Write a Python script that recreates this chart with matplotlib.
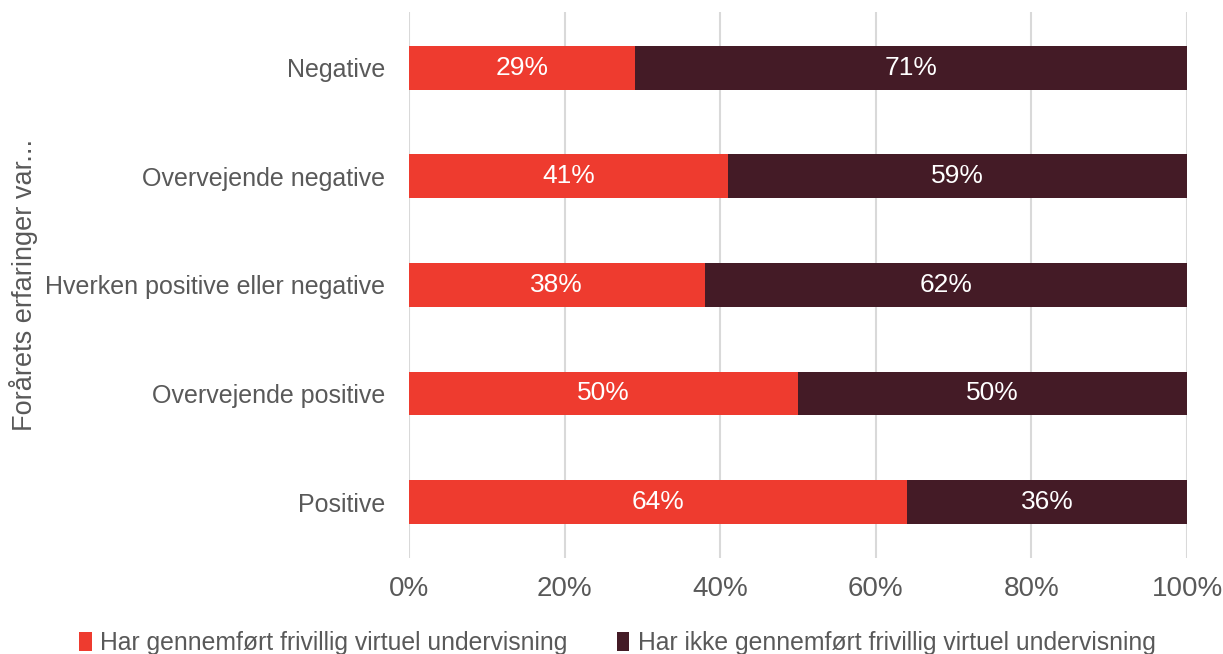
import numpy as np
import matplotlib
matplotlib.use("Agg")
from matplotlib import pyplot as plt

categories = ['Positive', 'Overvejende positive', 'Hverken positive eller negative',
              'Overvejende negative', 'Negative']
har = [64, 50, 38, 41, 29]
har_ikke = [36, 50, 62, 59, 71]
series_names = ['Har gennemført frivillig virtuel undervisning',
                'Har ikke gennemført frivillig virtuel undervisning']
xticks = [0, 20, 40, 60, 80, 100]

red = '#EE3B2F'
dark = '#441B26'
grey = '#595959'

plt.rcParams['font.family'] = ['Liberation Sans', 'DejaVu Sans']

fig = plt.figure(figsize=(12.23, 6.54), dpi=100)
ax = fig.add_axes([0.3344, 0.1468, 0.6362, 0.8349])

y = np.arange(len(categories))
h = 0.405
b1 = ax.barh(y, har, height=h, color=red, label=series_names[0], zorder=3)
b2 = ax.barh(y, har_ikke, left=har, height=h, color=dark, label=series_names[1], zorder=3)

for i in range(len(categories)):
    ax.text(har[i] / 2, y[i], f'{har[i]}%', ha='center', va='center',
            color='white', fontsize=19, zorder=4)
    ax.text(har[i] + har_ikke[i] / 2, y[i], f'{har_ikke[i]}%', ha='center', va='center',
            color='white', fontsize=19, zorder=4)

ax.set_xlim(0, 100)
ax.set_ylim(-0.516, 4.516)
ax.set_xticks(xticks)
ax.set_xticklabels([f'{t}%' for t in xticks], fontsize=20, color=grey)
ax.set_yticks(y)
ax.set_yticklabels(categories, fontsize=18, color=grey)
ax.tick_params(length=0, pad=17)
ax.tick_params(axis='x', pad=13)
ax.grid(axis='x', color='#D9D9D9', linewidth=1.5, zorder=0)
for s in ax.spines.values():
    s.set_visible(False)

fig.text(0.019, 0.565, 'Forårets erfaringer var...', rotation=90, ha='center', va='center',
         fontsize=19.5, color=grey)

fig.legend(handles=[b1, b2], loc='lower center', bbox_to_anchor=(0.505, -0.035), ncol=2,
           frameon=False, fontsize=17.8, labelcolor=grey, handlelength=0.5, handleheight=0.8,
           handletextpad=0.35, columnspacing=2.0)

fig.savefig('out.png', dpi=100)
